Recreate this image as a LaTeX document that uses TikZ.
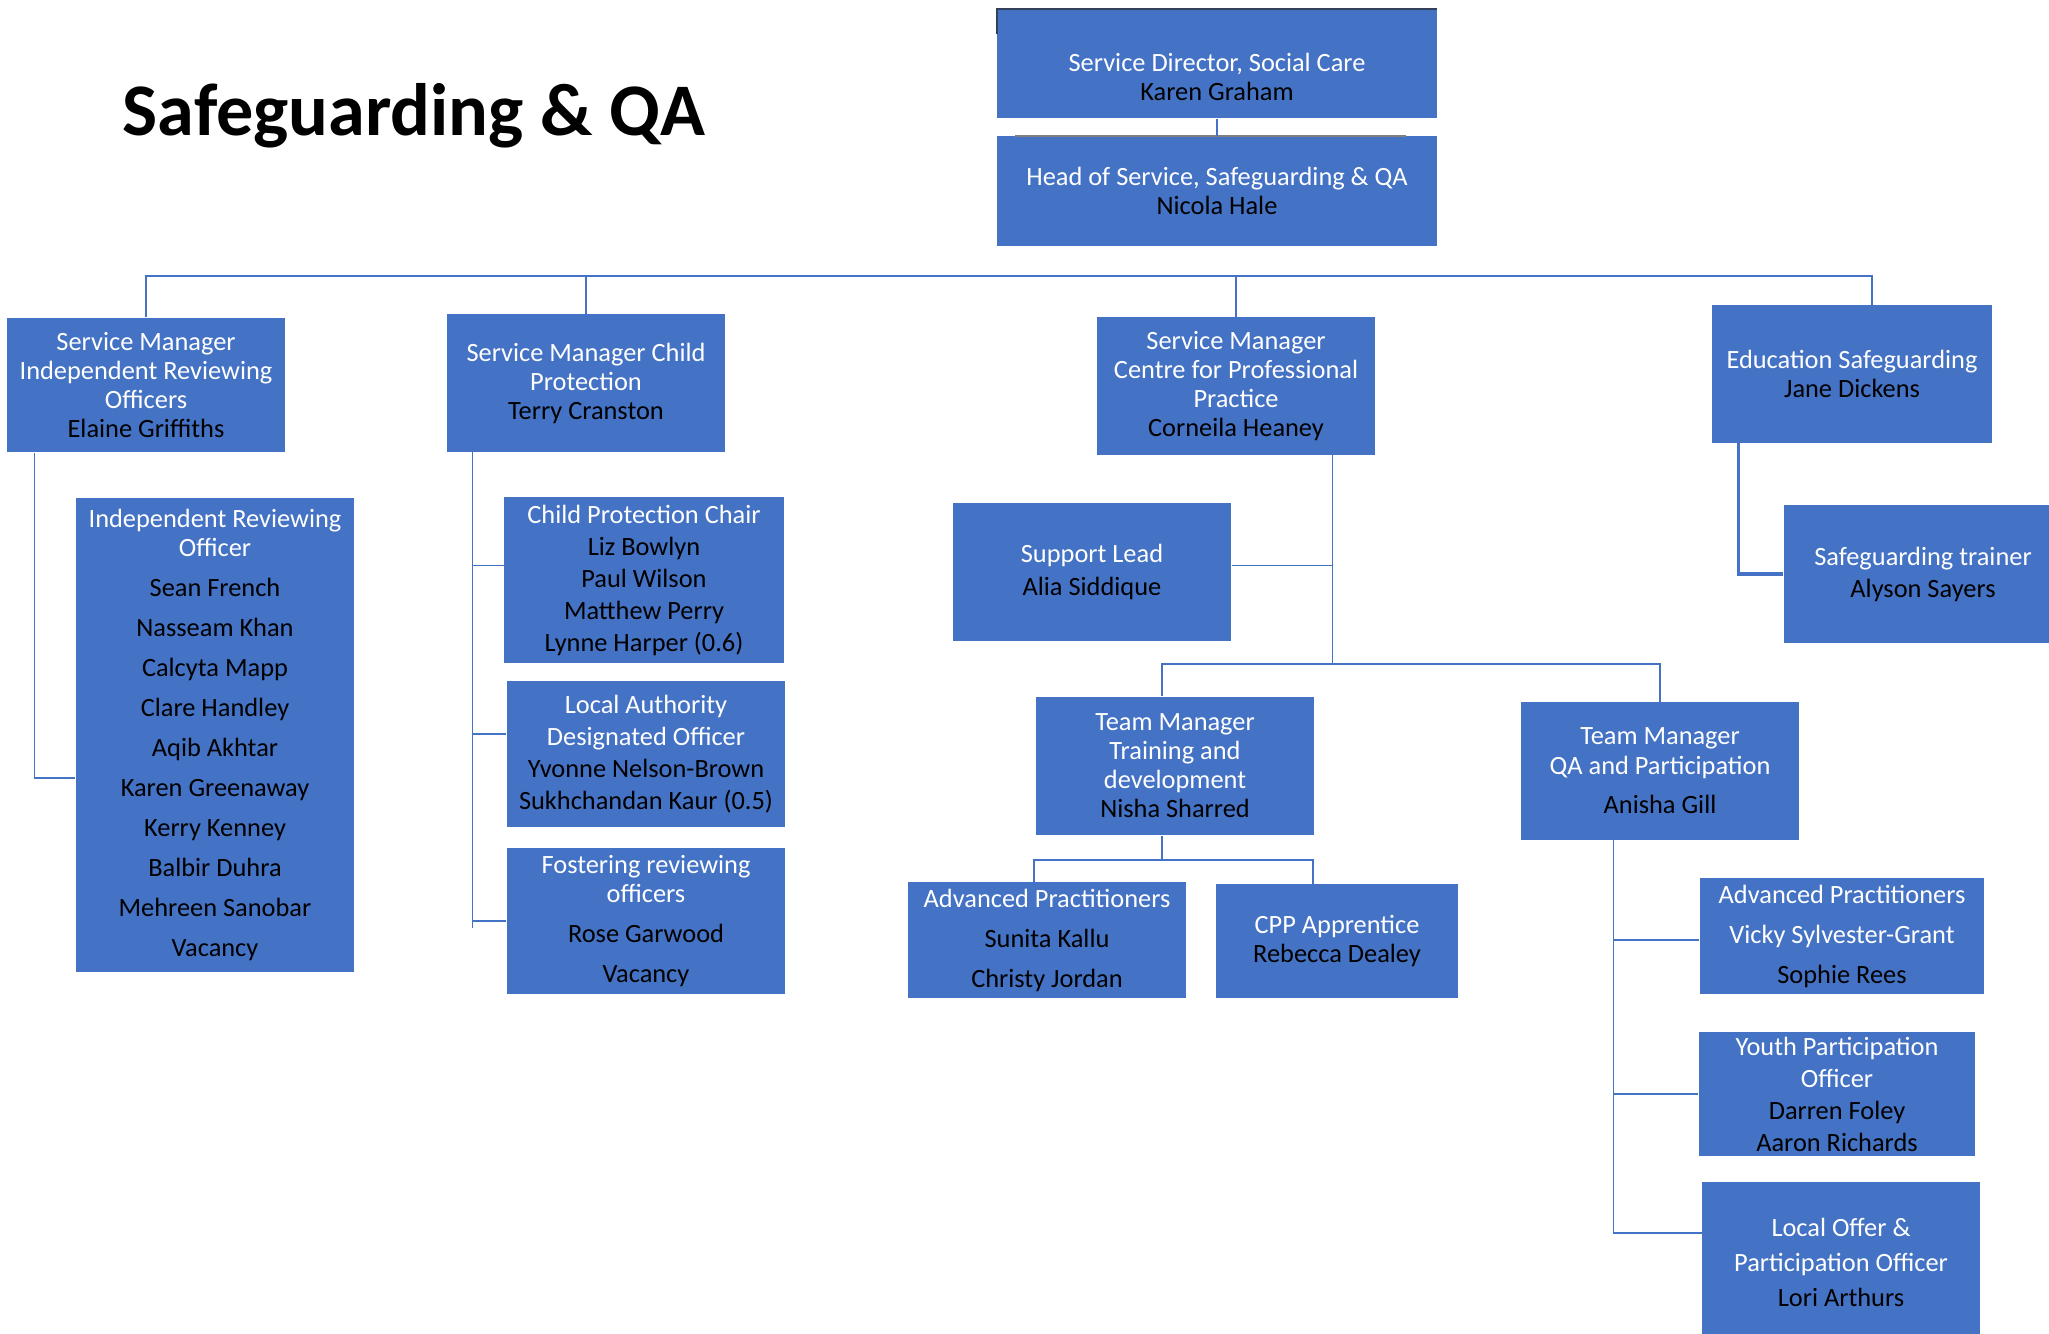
\documentclass[tikz,border=0pt]{standalone}
\usepackage{fontspec}
\setmainfont{Carlito}
\definecolor{boxblue}{HTML}{4472C4}
\definecolor{edgedark}{HTML}{34405A}
\newcommand{\nm}[1]{\textcolor{black}{#1}}

\begin{document}
\begin{tikzpicture}[x=0.01cm,y=-0.01cm,
	box/.style={fill=boxblue,text=white,align=center,inner sep=0pt,
		font=\fontsize{7.5pt}{8.25pt}\selectfont},
	link/.style={draw=boxblue,line width=0.4pt}]
	\useasboundingbox (0,0) rectangle (2049,1333);
	\node[anchor=base west,inner sep=0pt,font=\bfseries\fontsize{21.1pt}{25pt}\selectfont] (title) at (122,135) {Safeguarding \& QA};
	% top of the tree
	\node[box,minimum width=4.39cm,minimum height=1.08cm] (dir) at (1217,64) {};
	\node[box,fill=none] (dirtext) at (1217,77) {Service Director, Social Care\\\nm{Karen Graham}};
	\node[box,minimum width=4.39cm,minimum height=1.09cm] (head) at (1217,191) {Head of Service, Safeguarding \& QA\\\nm{Nicola Hale}};
	\draw[edgedark,line width=0.6pt] ([yshift=-0.25cm]dir.north west)--(dir.north west)--(dir.north east);
	\draw[gray,line width=0.5pt] ([xshift=0.18cm]head.north west)--([xshift=-0.31cm]head.north east);
	% service managers
	\node[box,minimum width=2.77cm,minimum height=1.34cm] (smiro) at (146,385) {Service Manager\\Independent Reviewing\\Officers\\\nm{Elaine Griffiths}};
	\node[box,minimum width=2.78cm,minimum height=1.37cm] (smcp) at (586,383) {Service Manager Child\\Protection\\\nm{Terry Cranston}};
	\node[box,minimum width=2.78cm,minimum height=1.37cm] (smcpp) at (1236,386) {Service Manager\\Centre for Professional\\Practice\\\nm{Corneila Heaney}};
	\node[box,minimum width=2.79cm,minimum height=1.37cm] (edu) at (1852,374) {Education Safeguarding\\\nm{Jane Dickens}};
	% IRO
	\node[box,minimum width=2.78cm,minimum height=4.74cm] (iro) at (215,735) {Independent Reviewing\\Officer\\[0.11cm]
		\nm{Sean French}\\[0.11cm]\nm{Nasseam Khan}\\[0.11cm]\nm{Calcyta Mapp}\\[0.11cm]\nm{Clare Handley}\\[0.11cm]
		\nm{Aqib Akhtar}\\[0.11cm]\nm{Karen Greenaway}\\[0.11cm]\nm{Kerry Kenney}\\[0.11cm]\nm{Balbir Duhra}\\[0.11cm]
		\nm{Mehreen Sanobar}\\[0.11cm]\nm{Vacancy}};
	% child protection
	\node[box,minimum width=2.79cm,minimum height=1.65cm] (cpchair) at (644,580) {Child Protection Chair\\[0.03cm]\nm{Liz Bowlyn}\\[0.03cm]
		\nm{Paul Wilson}\\[0.03cm]\nm{Matthew Perry}\\[0.03cm]\nm{Lynne Harper (0.6)}};
	\node[box,minimum width=2.78cm,minimum height=1.45cm] (lado) at (646,754) {Local Authority\\[0.03cm]Designated Officer\\[0.03cm]
		\nm{Yvonne Nelson-Brown}\\[0.03cm]\nm{Sukhchandan Kaur (0.5)}};
	\node[box,minimum width=2.78cm,minimum height=1.45cm] (fost) at (646,921) {Fostering reviewing\\officers\\[0.11cm]\nm{Rose Garwood}\\[0.11cm]\nm{Vacancy}};
	% professional practice
	\node[box,minimum width=2.78cm,minimum height=1.37cm] (support) at (1092,572) {Support Lead\\[0.04cm]\nm{Alia Siddique}};
	\node[box,minimum width=2.78cm,minimum height=1.38cm] (tmtrain) at (1175,766) {Team Manager\\Training and\\development\\\nm{Nisha Sharred}};
	\node[box,minimum width=2.78cm,minimum height=1.37cm] (tmqa) at (1660,771) {Team Manager\\[0.01cm]QA and Participation\\[0.1cm]\nm{Anisha Gill}};
	\node[box,minimum width=2.77cm,minimum height=1.15cm] (apleft) at (1047,940) {Advanced Practitioners\\[0.11cm]\nm{Sunita Kallu}\\[0.11cm]\nm{Christy Jordan}};
	\node[box,minimum width=2.42cm,minimum height=1.13cm] (cppapp) at (1337,941) {CPP Apprentice\\\nm{Rebecca Dealey}};
	\node[box,minimum width=2.84cm,minimum height=1.15cm] (apright) at (1842,936) {Advanced Practitioners\\[0.11cm]Vicky Sylvester-Grant\\[0.11cm]\nm{Sophie Rees}};
	\node[box,minimum width=2.76cm,minimum height=1.23cm] (youth) at (1837,1094) {Youth Participation\\[0.03cm]Officer\\[0.03cm]
		\nm{Darren Foley}\\[0.03cm]\nm{Aaron Richards}};
	\node[box,minimum width=2.77cm,minimum height=1.6cm] (locoffer) at (1841,1262) {Local Offer \&\\[0.06cm]Participation Officer\\[0.06cm]\nm{Lori Arthurs}};
	% education
	\node[box,minimum width=2.78cm,minimum height=1.38cm] (trainer) at (1923,574) {Safeguarding trainer\\[0.03cm]\nm{Alyson Sayers}};
	
	% connectors
	\draw[link] (dir)--(head);
	\coordinate (bus) at (0,276);
	\coordinate (edutop) at ([xshift=0.2cm]edu.north);
	\draw[link] (smiro.north)--(smiro.north |- bus)--(edutop |- bus)--(edutop);
	\draw[link] (smcp.north)--(smcp.north |- bus);
	\draw[link] (smcpp.north)--(smcpp.north |- bus);
	
	\coordinate (irov) at ([xshift=0.28cm]smiro.south west);
	\draw[link] (irov) |- ([yshift=-0.43cm]iro.west);
	
	\coordinate (cpv) at ([xshift=0.26cm]smcp.south west);
	\draw[link] (cpv)--++(0,476);
	\draw[link] (cpv) |- ([yshift=0.145cm]cpchair.west);
	\draw[link] (cpv) |- ([yshift=0.2cm]lado.west);
	\draw[link] (cpv) |- (fost.west);
	
	\coordinate (cppv) at ([xshift=-0.43cm]smcpp.south east);
	\coordinate (cppbus) at (0,664);
	\draw[link] (cppv) |- ([yshift=0.065cm]support.east);
	\draw[link] (cppv)--(cppv |- cppbus);
	\coordinate (tmtraintop) at ([xshift=-0.13cm]tmtrain.north);
	\draw[link] (tmtraintop)--(tmtraintop |- cppbus) -| (tmqa.north);
	
	\coordinate (tmtrainbot) at ([xshift=-0.13cm]tmtrain.south);
	\coordinate (trbus) at (0,860);
	\coordinate (aplefttop) at ([xshift=-0.13cm]apleft.north);
	\coordinate (cppapptop) at ([xshift=-0.24cm]cppapp.north);
	\draw[link] (tmtrainbot)--(tmtrainbot |- trbus);
	\draw[link] (aplefttop) |- (cppapptop |- trbus)--(cppapptop);
	
	\coordinate (qav) at ([xshift=0.93cm]tmqa.south west);
	\draw[link] (qav) |- ([yshift=-0.04cm]apright.west);
	\draw[link] (qav) |- (youth.west);
	\draw[link] (qav) |- ([yshift=0.29cm]locoffer.west);
	
	\coordinate (eduv) at ([xshift=0.27cm]edu.south west);
	\draw[link,line width=0.9pt] (eduv) |- (trainer.west);
\end{tikzpicture}
\end{document}
